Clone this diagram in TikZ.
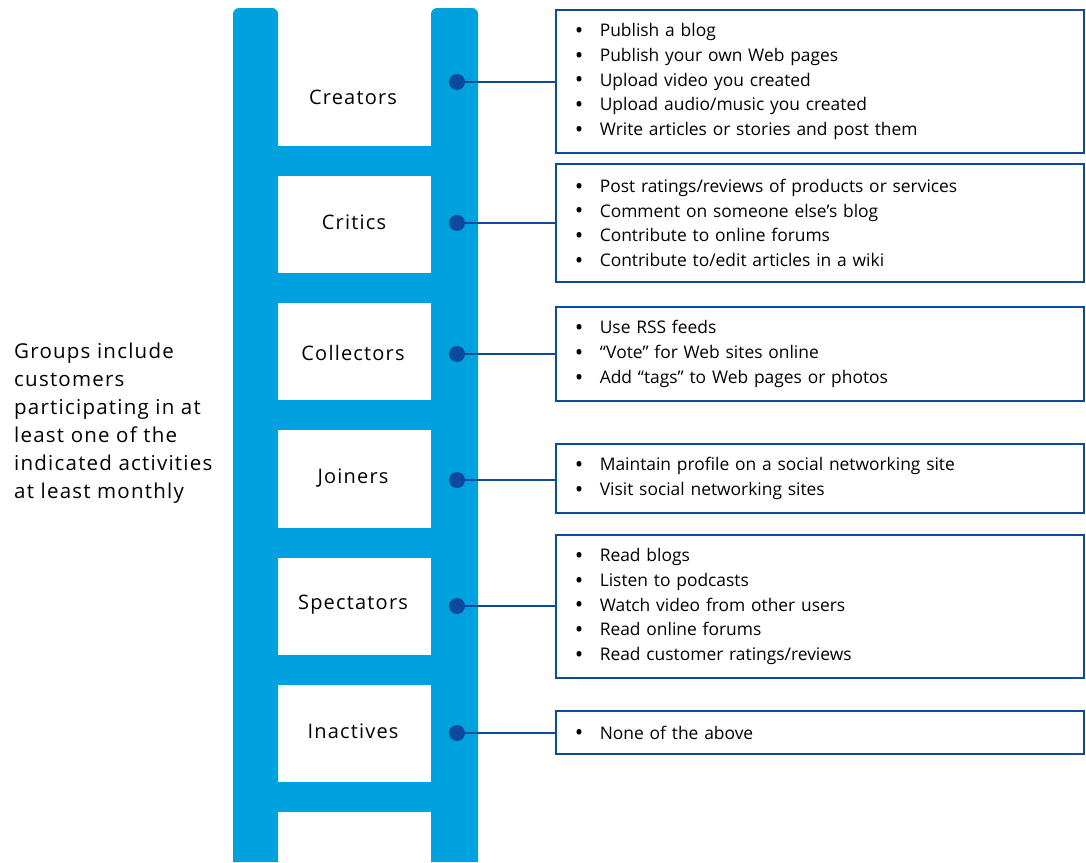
\documentclass[tikz,border=0pt]{standalone}
\usepackage{fontspec}
\setmainfont{Open Sans}
\definecolor{railblue}{RGB}{0,161,223}
\definecolor{darkblue}{RGB}{12,74,155}
\tikzset{
  rail/.style={fill=railblue},
  rung/.style={fill=railblue},
  grouplabel/.style={font=\fontsize{20}{24}\selectfont\addfontfeature{LetterSpace=6}, inner sep=0pt},
  dotnode/.style={circle, fill=darkblue, minimum size=16pt, inner sep=0pt},
  listbox/.style={draw=darkblue, line width=1.6pt, anchor=west, minimum width=528pt,
     text width=488pt, inner xsep=20pt, inner ysep=0pt, align=left,
     font=\fontsize{17.4}{24.8}\selectfont},
  link/.style={draw=darkblue, line width=2.4pt},
  note/.style={font=\fontsize{20.5}{28}\selectfont\addfontfeature{LetterSpace=6}, align=left, inner sep=0pt, anchor=west}
}
\newcommand{\itm}[1]{\makebox[24pt][l]{\hspace{-1pt}\smash{\raisebox{-1.8pt}{\scalebox{1.3}{\textbullet}}}}#1}
\begin{document}
\begin{tikzpicture}[x=1pt,y=-1pt]
\useasboundingbox (0,0) rectangle (1086,862);
% rails
\fill[rail] (233,862) [rounded corners=6pt]-- (233,8) -- (278,8) [sharp corners]-- (278,862) -- cycle;
\fill[rail] (431,862) [rounded corners=6pt]-- (431,8) -- (478,8) [sharp corners]-- (478,862) -- cycle;
% rungs
\foreach \y in {146,273,400,528,655,782} {
  \fill[rung] (277,\y) rectangle (432,\y+30);
}
% labels
\node[grouplabel] (l1) at (353,97) {Creators};
\node[grouplabel] (l2) at (354,222) {Critics};
\node[grouplabel] (l3) at (353,353) {Collectors};
\node[grouplabel] (l4) at (353,478) {Joiners};
\node[grouplabel] (l5) at (353,605) {Spectators};
\node[grouplabel] (l6) at (353,731) {Inactives};
% dots
\node[dotnode] (d1) at (457,82) {};
\node[dotnode] (d2) at (457,223) {};
\node[dotnode] (d3) at (457,354) {};
\node[dotnode] (d4) at (457,480) {};
\node[dotnode] (d5) at (457,606) {};
\node[dotnode] (d6) at (457,733) {};
% boxes
\node[listbox, minimum height=143pt] (b1) at (555,81.5) {\itm{Publish a blog}\\\itm{Publish your own Web pages}\\\itm{Upload video you created}\\\itm{Upload audio/music you created}\\\itm{Write articles or stories and post them}};
\node[listbox, minimum height=118pt] (b2) at (555,223) {\itm{Post ratings/reviews of products or services}\\\itm{Comment on someone else’s blog}\\\itm{Contribute to online forums}\\\itm{Contribute to/edit articles in a wiki}};
\node[listbox, minimum height=94pt] (b3) at (555,354) {\itm{Use RSS feeds}\\\itm{“Vote” for Web sites online}\\\itm{Add “tags” to Web pages or photos}};
\node[listbox, minimum height=69pt] (b4) at (555,478.5) {\itm{Maintain profile on a social networking site}\\\itm{Visit social networking sites}};
\node[listbox, minimum height=143pt] (b5) at (555,606.5) {\itm{Read blogs}\\\itm{Listen to podcasts}\\\itm{Watch video from other users}\\\itm{Read online forums}\\\itm{Read customer ratings/reviews}};
\node[listbox, minimum height=43pt] (b6) at (555,732.5) {\itm{None of the above}};
% links
\foreach \i in {1,...,6} {
  \draw[link] (d\i.center) -- (b\i.west |- d\i.center);
}
% note
\node[note] (n) at (14,423) {Groups include\\customers\\participating in at\\least one of the\\indicated activities\\at least monthly};
\end{tikzpicture}
\end{document}
